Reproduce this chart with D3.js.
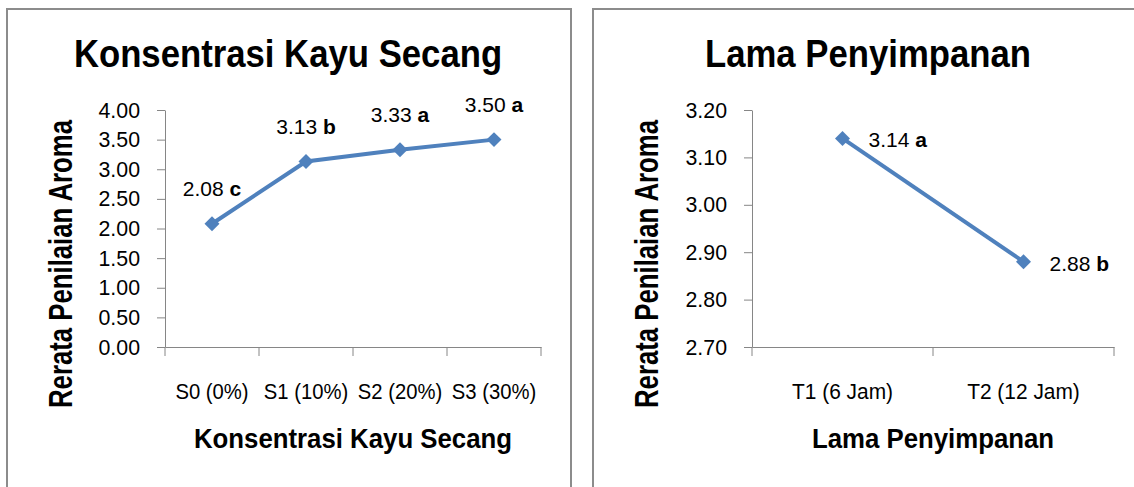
<!DOCTYPE html>
<html>
<head>
<meta charset="utf-8">
<script src="https://cdn.jsdelivr.net/npm/d3@7"></script>
<style>
  body { margin: 0; background: #fff; }
  svg { display: block; }
  text { font-family: "Liberation Sans", Arial, sans-serif; fill: #000; }
</style>
</head>
<body>
<svg id="chart" width="1134" height="487"></svg>
<script>
// Konsentrasi kayu secang (left)
const konsCategories = ["S0 (0%)", "S1 (10%)", "S2 (20%)", "S3 (30%)"];
const konsValues = [2.08, 3.13, 3.33, 3.50];
const konsLetters = ["c", "b", "a", "a"];
const konsTicks = [0, 0.5, 1, 1.5, 2, 2.5, 3, 3.5, 4];

// Lama penyimpanan (right)
const lamaCategories = ["T1 (6 Jam)", "T2 (12 Jam)"];
const lamaValues = [3.14, 2.88];
const lamaLetters = ["a", "b"];
const lamaTicks = [2.7, 2.8, 2.9, 3.0, 3.1, 3.2];

const yTitle = "Rerata Penilaian Aroma";
const blue = "#4F81BD";
const axisGray = "#868686";

const svg = d3.select("#chart");

// squeeze text horizontally a bit, the source font is a narrow one
function squeeze(sel, k) {
    sel.each(function () {
        const w = this.getComputedTextLength();
        d3.select(this).attr("textLength", w * k).attr("lengthAdjust", "spacingAndGlyphs");
    });
}

function drawPanel(cfg) {
    const g = svg.append("g");

    // panel frame (bottom is cut off in the picture)
    g.append("rect")
        .attr("x", cfg.frame[0]).attr("y", 9)
        .attr("width", cfg.frame[1] - cfg.frame[0]).attr("height", 520)
        .attr("fill", "none").attr("stroke", "#8c8c8c").attr("stroke-width", 2);

    g.append("text")
        .attr("x", cfg.titleX).attr("y", 67)
        .attr("text-anchor", "middle")
        .style("font-size", "39px").style("font-weight", "bold")
        .text(cfg.title)
        .call(squeeze, 0.89);

    const x = d3.scaleBand().domain(cfg.categories).range(cfg.xRange);
    const y = d3.scaleLinear().domain(d3.extent(cfg.ticks)).range([347, 110]);

    // y axis
    const yAxis = g.append("g")
        .attr("transform", `translate(${cfg.xRange[0]},0)`)
        .call(d3.axisLeft(y).tickValues(cfg.ticks).tickFormat(d3.format(".2f"))
            .tickSizeInner(8).tickSizeOuter(0).tickPadding(17));
    yAxis.selectAll("path, line").attr("stroke", axisGray);
    yAxis.selectAll("text").style("font-size", "22px").attr("fill", "#000")
        .call(squeeze, 0.97);

    // x axis, labels centred in the bands
    const xAxis = g.append("g")
        .attr("transform", "translate(0,347)")
        .call(d3.axisBottom(x).tickSize(0).tickPadding(36));
    xAxis.select(".domain").attr("stroke", axisGray);
    xAxis.selectAll("text").style("font-size", "22px").attr("fill", "#000")
        .call(squeeze, cfg.xTickSqueeze);

    // excel style ticks on the band edges
    const edges = cfg.categories.map(c => x(c)).concat([cfg.xRange[1]]);
    g.selectAll(".edge").data(edges).enter().append("line")
        .attr("x1", d => d).attr("x2", d => d)
        .attr("y1", 347).attr("y2", 356)
        .attr("stroke", axisGray);

    // axis titles
    g.append("text")
        .attr("transform", `translate(${cfg.yTitleX},264) rotate(-90)`)
        .attr("text-anchor", "middle")
        .style("font-size", "33px").style("font-weight", "bold")
        .text(yTitle)
        .call(squeeze, 0.78);

    g.append("text")
        .attr("x", (cfg.xRange[0] + cfg.xRange[1]) / 2).attr("y", 448)
        .attr("text-anchor", "middle")
        .style("font-size", "27px").style("font-weight", "bold")
        .text(cfg.title)
        .call(squeeze, 0.955);

    const pts = cfg.categories.map((c, i) => ({
        cx: x(c) + x.bandwidth() / 2,
        cy: y(cfg.values[i]),
        v: cfg.values[i],
        letter: cfg.letters[i]
    }));

    const line = d3.line().x(d => d.cx).y(d => d.cy);
    g.append("path")
        .datum(pts)
        .attr("d", line)
        .attr("fill", "none")
        .attr("stroke", blue)
        .attr("stroke-width", 4);

    g.selectAll(".mark").data(pts).enter().append("path")
        .attr("d", d3.symbol(d3.symbolSquare, 112))
        .attr("transform", d => `translate(${d.cx},${d.cy}) rotate(45)`)
        .attr("fill", blue);

    const labels = g.selectAll(".lbl").data(pts).enter().append("text")
        .style("font-size", "21px")
        .attr("x", d => cfg.labelSide === "right" ? d.cx + 26 : d.cx)
        .attr("y", d => cfg.labelSide === "right" ? d.cy + 9 : d.cy - 28)
        .attr("text-anchor", cfg.labelSide === "right" ? "start" : "middle")
        .text(d => d.v.toFixed(2) + " ");
    labels.append("tspan")
        .style("font-weight", "bold")
        .text(d => d.letter);
}

drawPanel({
    frame: [7, 571],
    title: "Konsentrasi Kayu Secang",
    titleX: 288,
    categories: konsCategories,
    values: konsValues,
    letters: konsLetters,
    ticks: konsTicks,
    xRange: [165, 541],
    xTickSqueeze: 0.92,
    yTitleX: 72,
    labelSide: "top"
});

drawPanel({
    frame: [593, 1160],
    title: "Lama Penyimpanan",
    titleX: 868,
    categories: lamaCategories,
    values: lamaValues,
    letters: lamaLetters,
    ticks: lamaTicks,
    xRange: [752, 1114],
    xTickSqueeze: 0.95,
    yTitleX: 658,
    labelSide: "right"
});
</script>
</body>
</html>
